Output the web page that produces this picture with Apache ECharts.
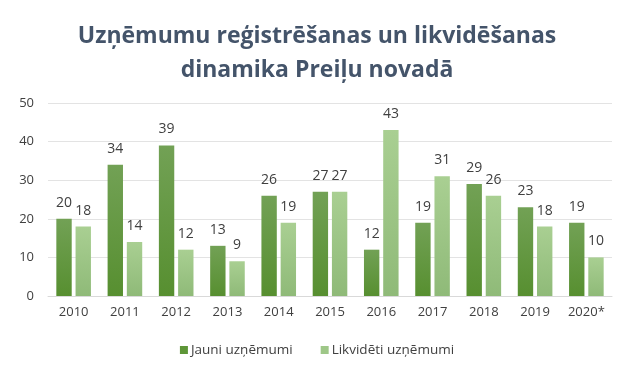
<!DOCTYPE html>
<html><head><meta charset="utf-8">
<script src="https://cdn.jsdelivr.net/npm/echarts@6/dist/echarts.min.js"></script>
<style>html,body{margin:0;padding:0;background:#fff}#c{width:634px;height:368px}</style>
</head><body><div id="c"></div>
<script>
const categories = ['2010','2011','2012','2013','2014','2015','2016','2017','2018','2019','2020*'];
const jauni = [20,34,39,13,26,27,12,19,29,23,19];
const likvideti = [18,14,12,9,19,27,43,31,26,18,10];
const yTicks = [0,10,20,30,40,50];

const chart = echarts.init(document.getElementById('c'));
const font = 'Open Sans';
const darkGrad = new echarts.graphic.LinearGradient(0,0,0,1,[{offset:0,color:'#72A155'},{offset:1,color:'#578F30'}]);
const lightGrad = new echarts.graphic.LinearGradient(0,0,0,1,[{offset:0,color:'#A9CF92'},{offset:1,color:'#8FBA78'}]);
chart.setOption({
  animation:false,
  title:{
    text:'Uzņēmumu reģistrēšanas un likvidēšanas\ndinamika Preiļu novadā',
    left:'center', top:14,
    textStyle:{fontFamily:font,fontWeight:'bold',fontSize:23,color:'#44546A',lineHeight:34}
  },
  legend:{
    bottom:6, left:'center', itemWidth:8, itemHeight:8, itemGap:28,
    icon:'rect',
    textStyle:{fontFamily:font,fontSize:13.5,color:'#404040',padding:[0,0,0,-2]},
    data:[{name:'Jauni uzņēmumi',itemStyle:{color:'#5E9638'}},{name:'Likvidēti uzņēmumi',itemStyle:{color:'#9EC788'}}]
  },
  grid:{left:48,right:22,top:103,bottom:72},
  xAxis:{
    type:'category', data:categories,
    axisLine:{lineStyle:{color:'#D9D9D9'}}, axisTick:{show:false},
    axisLabel:{fontFamily:font,fontSize:13,color:'#404040',margin:10}
  },
  yAxis:{
    type:'value', min:yTicks[0], max:yTicks[yTicks.length-1], interval:10,
    axisLabel:{fontFamily:font,fontSize:13,color:'#404040',margin:14},
    splitLine:{lineStyle:{color:'#E3E3E3'}}, axisLine:{show:false}, axisTick:{show:false}
  },
  series:[
    {name:'Jauni uzņēmumi',type:'bar',data:jauni,barWidth:'30%',barGap:'25%',
     itemStyle:{color:darkGrad},
     label:{show:true,position:'top',distance:9,fontFamily:font,fontSize:14,color:'#404040'}},
    {name:'Likvidēti uzņēmumi',type:'bar',data:likvideti,barWidth:'30%',
     itemStyle:{color:lightGrad},
     label:{show:true,position:'top',distance:9,fontFamily:font,fontSize:14,color:'#404040'}}
  ]
});
</script></body></html>
